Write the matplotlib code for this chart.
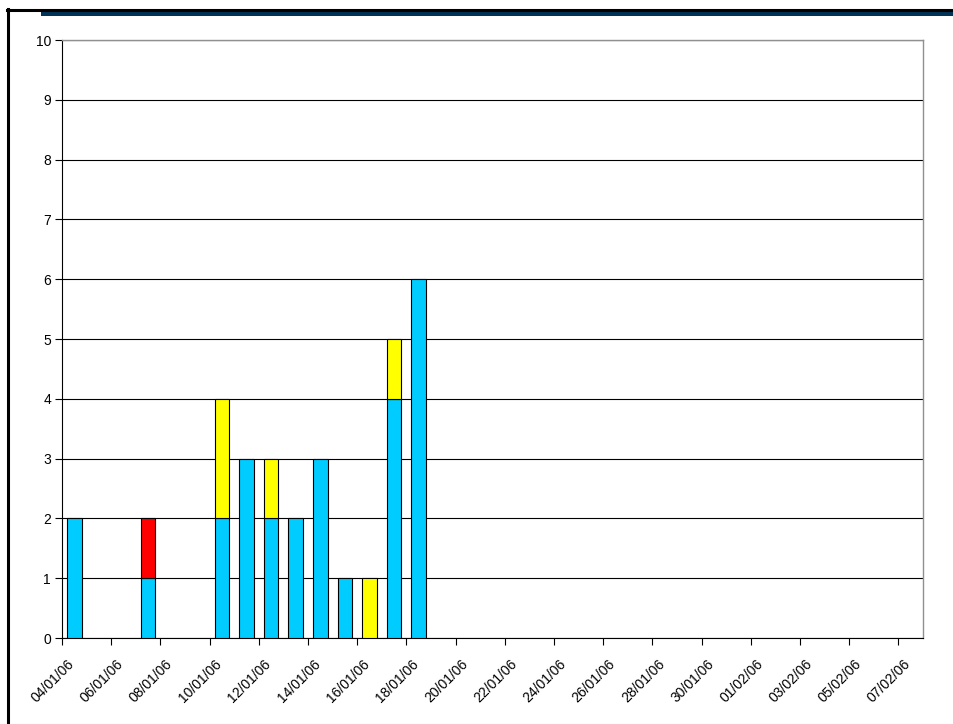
import matplotlib.pyplot as plt
import matplotlib.dates as mdates
from matplotlib.lines import Line2D
from matplotlib.patches import Rectangle
import numpy as np
import pandas as pd

# Daily counts (stacked)
days = ['2006-01-04', '2006-01-07', '2006-01-10', '2006-01-11', '2006-01-12',
        '2006-01-13', '2006-01-14', '2006-01-15', '2006-01-16', '2006-01-17',
        '2006-01-18']
blue = [2, 1, 2, 3, 2, 2, 3, 1, 0, 4, 6]
red = [0, 1, 0, 0, 0, 0, 0, 0, 0, 0, 0]
yellow = [0, 0, 2, 0, 1, 0, 0, 0, 1, 1, 0]

axis_start = '2006-01-04'
axis_end = '2006-02-08'

plt.rcParams['font.family'] = ['Liberation Sans', 'DejaVu Sans']
plt.rcParams['font.size'] = 10

fig = plt.figure(figsize=(9.54, 7.24), dpi=100)
W, H = 954, 724
ax = fig.add_axes([62 / W, (H - 638) / H, (923 - 62) / W, (638 - 40) / H])

x = mdates.date2num(pd.to_datetime(days)) + 0.5
blue = np.array(blue)
red = np.array(red)
yellow = np.array(yellow)
bw = 0.6
edge = dict(edgecolor='black', linewidth=0.8, zorder=3)

def stacked(vals, bottom, color):
    mask = vals > 0
    ax.bar(x[mask], vals[mask], bw, bottom=bottom[mask], color=color, **edge)

stacked(blue, np.zeros_like(blue), '#00CCFF')
stacked(red, blue, '#FF0000')
stacked(yellow, blue + red, '#FFFF00')

ax.set_ylim(0, 10)
ax.set_yticks(range(0, 11))
ax.set_xlim(mdates.date2num(pd.Timestamp(axis_start)), mdates.date2num(pd.Timestamp(axis_end)))
ticks = pd.date_range(axis_start, '2006-02-07', freq='2D')
tick_pos = mdates.date2num(ticks)
ax.set_xticks(tick_pos)
ax.set_xticklabels([])
# rotated date labels, placed like the original sheet
for tp, t in zip(tick_pos, ticks):
    ax.annotate(t.strftime('%d/%m/%y'), xy=(tp, 0), xycoords=('data', 'axes fraction'),
                xytext=(3.6, -13.5), textcoords='offset points', rotation=45,
                ha='right', va='top', rotation_mode='anchor', fontsize=10,
                annotation_clip=False)

ax.grid(axis='y', color='black', linewidth=0.8)
ax.set_axisbelow(True)
ax.tick_params(axis='both', direction='out', length=5, width=0.8, color='black', pad=3)
for s in ['top', 'right']:
    ax.spines[s].set_color('#909090')
    ax.spines[s].set_linewidth(1.0)
for s in ['left', 'bottom']:
    ax.spines[s].set_color('black')
    ax.spines[s].set_linewidth(0.8)

# frame around the picture
fig.add_artist(Line2D([7.5 / W, 1], [1 - 10 / H, 1 - 10 / H], color='black', linewidth=2.2))
fig.add_artist(Line2D([8 / W, 8 / W], [0, 1 - 9 / H], color='black', linewidth=2.2))
fig.add_artist(Rectangle((41 / W, 1 - 15.5 / H), 1, 4 / H, color='#003355',
                         transform=fig.transFigure, linewidth=0))

fig.savefig('out.png', dpi=100)
